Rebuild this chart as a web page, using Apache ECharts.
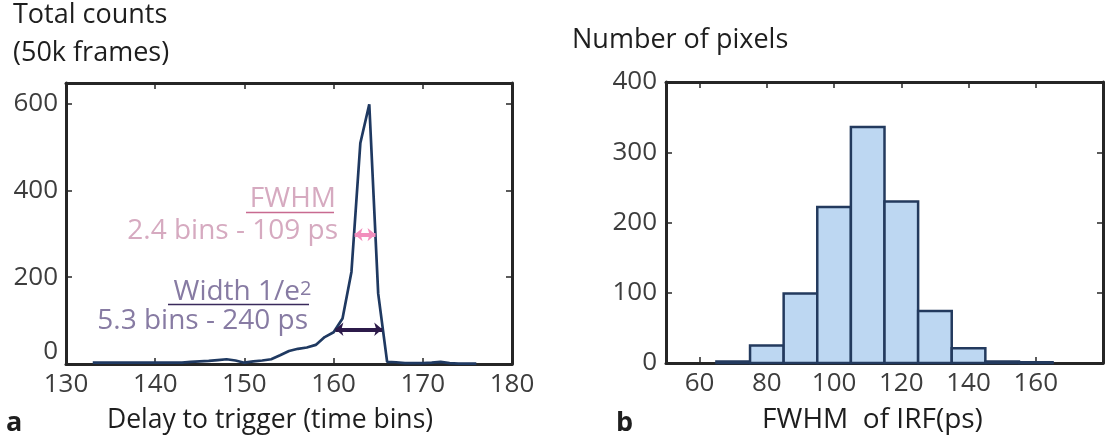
<!DOCTYPE html>
<html>
<head>
<meta charset="utf-8">
<script src="https://cdn.jsdelivr.net/npm/echarts@6/dist/echarts.min.js"></script>
<style>
  html, body { margin: 0; padding: 0; background: #fff; }
  #main { width: 1105px; height: 441px; }
</style>
</head>
<body>
<div id="main"></div>
<script>
// panel a: total counts per time bin
const delayBins = [133, 134, 135, 136, 137, 138, 139, 140, 141, 142, 143, 144, 145, 146, 147, 148, 149, 150,
  151, 152, 153, 154, 155, 156, 157, 158, 159, 160, 161, 162, 163, 164, 165, 166, 167, 168, 169, 170,
  171, 172, 173, 174, 175, 176];
const totalCounts = [3, 3, 3, 3, 3, 3, 3, 3, 3, 3, 3, 5, 6, 7, 9, 11, 8, 3,
  6, 8, 11, 20, 30, 35, 38, 44, 62, 73, 105, 212, 509, 598, 162, 5, 4, 2, 2, 2,
  3, 5, 2, 1, 1, 1];
const delayTicks = [130, 140, 150, 160, 170, 180];
const countTicks = [0, 200, 400, 600];

// FWHM and 1/e^2 width markers (time bins, counts)
const fwhmSpan = [162.35, 164.7];
const fwhmLevel = 298;
const widthSpan = [160.2, 165.45];
const widthLevel = 80;

// panel b: histogram of FWHM per pixel
const fwhmBinStart = [65, 75, 85, 95, 105, 115, 125, 135, 145, 155];
const fwhmBinWidth = 10;
const pixelCounts = [2, 25, 99, 222, 336, 230, 74, 21, 2, 1];
const fwhmTicks = [60, 80, 100, 120, 140, 160];
const pixelTicks = [0, 100, 200, 300, 400];

const FONT = "'Open Sans', 'DejaVu Sans', sans-serif";
const LABEL_COLOR = '#3d3d3d';
const TITLE_COLOR = '#1e1e1e';
const AXIS_COLOR = '#262626';

const chart = echarts.init(document.getElementById('main'));

function boxAxis(ticks, extra) {
  return Object.assign({
    type: 'value',
    axisLine: { show: true, onZero: false, lineStyle: { color: AXIS_COLOR, width: 3 } },
    axisTick: { show: true, inside: true, length: 6, customValues: ticks,
      lineStyle: { color: AXIS_COLOR, width: 1.5 } },
    axisLabel: { show: false },
    splitLine: { show: false }
  }, extra);
}

function tickLabels(ticks, extra) {
  return Object.assign({
    show: true, customValues: ticks, color: LABEL_COLOR, fontFamily: FONT, fontSize: 26, margin: 8
  }, extra);
}

const histData = fwhmBinStart.map((s, i) => [s, s + fwhmBinWidth, pixelCounts[i]]);

const option = {
  animation: false,
  backgroundColor: '#fff',
  grid: [
    { left: 66, right: 593, top: 83, bottom: 77 },
    { left: 666, right: 2, top: 82, bottom: 78 }
  ],
  xAxis: [
    boxAxis(delayTicks, { gridIndex: 0, position: 'bottom', min: 130, max: 180,
      axisLabel: tickLabels(delayTicks),
      name: 'Delay to trigger (time bins)', nameLocation: 'middle', nameGap: 43,
      nameTextStyle: { color: TITLE_COLOR, fontFamily: FONT, fontSize: 26.5, padding: [0, 38, 0, 0] } }),
    boxAxis(delayTicks, { gridIndex: 0, position: 'top', min: 130, max: 180 }),
    boxAxis(fwhmTicks, { gridIndex: 1, position: 'bottom', min: 50, max: 180,
      axisLabel: tickLabels(fwhmTicks),
      name: 'FWHM  of IRF(ps)', nameLocation: 'middle', nameGap: 43,
      nameTextStyle: { color: TITLE_COLOR, fontFamily: FONT, fontSize: 28, padding: [0, 24, 0, 0] } }),
    boxAxis(fwhmTicks, { gridIndex: 1, position: 'top', min: 50, max: 180 })
  ],
  yAxis: [
    boxAxis(countTicks, { gridIndex: 0, position: 'left', min: 0, max: 647,
      axisLabel: tickLabels(countTicks, {
        formatter: v => (v === 0 ? '{z|0}' : String(v)),
        rich: { z: { color: LABEL_COLOR, fontFamily: FONT, fontSize: 26, padding: [0, 0, 24, 0] } } }) }),
    boxAxis(countTicks, { gridIndex: 0, position: 'right', min: 0, max: 647 }),
    boxAxis(pixelTicks, { gridIndex: 1, position: 'left', min: 0, max: 400,
      axisLabel: tickLabels(pixelTicks, { margin: 9 }) }),
    boxAxis(pixelTicks, { gridIndex: 1, position: 'right', min: 0, max: 400 })
  ],
  series: [
    {
      type: 'line',
      xAxisIndex: 0, yAxisIndex: 0,
      data: delayBins.map((d, i) => [d, totalCounts[i]]),
      showSymbol: false,
      lineStyle: { color: '#1f3961', width: 2.7 },
      z: 3,
      markLine: {
        silent: true,
        symbol: ['arrow', 'arrow'],
        symbolSize: [10, 8],
        label: { show: false },
        data: [
          [{ coord: [fwhmSpan[0], fwhmLevel], lineStyle: { color: '#f28fbd', width: 4, type: 'solid' } },
           { coord: [fwhmSpan[1], fwhmLevel] }],
          [{ coord: [widthSpan[0], widthLevel], lineStyle: { color: '#2c1a4a', width: 4, type: 'solid' } },
           { coord: [widthSpan[1], widthLevel] }]
        ]
      }
    },
    {
      type: 'custom',
      xAxisIndex: 2, yAxisIndex: 2,
      data: histData,
      encode: { x: [0, 1], y: 2 },
      renderItem: function (params, api) {
        const p0 = api.coord([api.value(0), api.value(2)]);
        const p1 = api.coord([api.value(1), 0]);
        return {
          type: 'rect',
          shape: { x: p0[0], y: p0[1], width: p1[0] - p0[0], height: p1[1] - p0[1] },
          style: { fill: '#bdd7f2', stroke: '#233a5e', lineWidth: 2.5 }
        };
      }
    }
  ],
  graphic: [
    { type: 'text', left: 13, top: 2, style: { text: 'Total counts', font: '27px ' + FONT, fill: TITLE_COLOR } },
    { type: 'text', left: 13, top: 40, style: { text: '(50k frames)', font: '27px ' + FONT, fill: TITLE_COLOR } },
    { type: 'text', left: 572, top: 27, style: { text: 'Number of pixels', font: '27px ' + FONT, fill: TITLE_COLOR } },
    { type: 'text', left: 6, top: 410, style: { text: 'a', font: 'bold 27px ' + FONT, fill: TITLE_COLOR } },
    { type: 'text', left: 616, top: 410, style: { text: 'b', font: 'bold 27px ' + FONT, fill: TITLE_COLOR } },
    { type: 'text', x: 336, y: 199, style: { text: 'FWHM', font: '28px ' + FONT, fill: '#d6aac0', align: 'right', verticalAlign: 'middle' } },
    { type: 'line', shape: { x1: 246, y1: 212.5, x2: 334, y2: 212.5 }, style: { stroke: '#c86a90', lineWidth: 1.5 } },
    { type: 'text', x: 338, y: 231, style: { text: '2.4 bins - 109 ps', font: '28px ' + FONT, fill: '#d6aac0', align: 'right', verticalAlign: 'middle' } },
    { type: 'text', x: 300, y: 292, style: { text: 'Width 1/e', font: '28px ' + FONT, fill: '#877ba3', align: 'right', verticalAlign: 'middle' } },
    { type: 'text', x: 300, y: 289, style: { text: '2', font: '20px ' + FONT, fill: '#877ba3', align: 'left', verticalAlign: 'middle' } },
    { type: 'line', shape: { x1: 168, y1: 304.5, x2: 309, y2: 304.5 }, style: { stroke: '#3a2a5c', lineWidth: 1.5 } },
    { type: 'text', x: 308, y: 321, style: { text: '5.3 bins - 240 ps', font: '28px ' + FONT, fill: '#877ba3', align: 'right', verticalAlign: 'middle' } }
  ]
};

chart.setOption(option);
</script>
</body>
</html>
